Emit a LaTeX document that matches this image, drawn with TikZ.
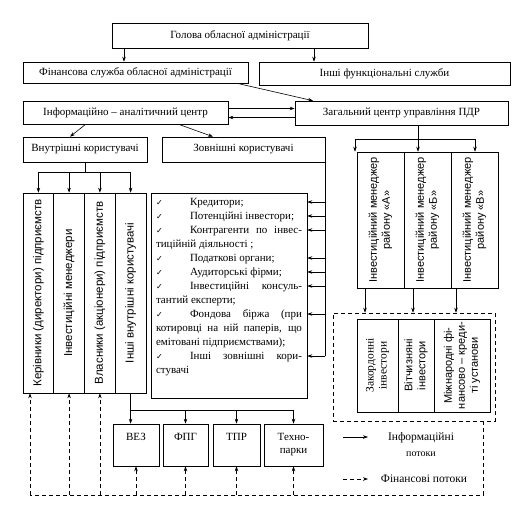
\documentclass[tikz,border=0pt]{standalone}
\usepackage{fontspec}
\setmainfont{Liberation Serif}
\setsansfont{Liberation Sans}
\newfontfamily\symfont{DejaVu Sans}
\usetikzlibrary{arrows.meta}

\newcommand{\chk}{\makebox[34pt][l]{\symfont\footnotesize ✓}}
\newcommand{\jl}[1]{\makebox[\linewidth][s]{#1}}

\tikzset{
  box/.style={draw, inner sep=2pt, align=center, font=\fontsize{11}{13}\selectfont},
  vbox/.style={box, rotate=90, font=\sffamily\fontsize{11}{13}\selectfont},
  arr/.style={-{Stealth[length=5pt,width=3.5pt]}},
  fin/.style={dash pattern=on 4pt off 3pt},
}

\begin{document}
\begin{tikzpicture}[x=1pt,y=-1pt,line width=0.6pt]
\useasboundingbox (0,0) rectangle (520,530);

% top levels
\node[box,minimum width=256pt,minimum height=25pt] (golova) at (240,35.5) {Голова обласної адміністрації};
\node[box,minimum width=225pt,minimum height=21pt] (finsl) at (135.5,72.5) {Фінансова служба обласної адміністрації};
\node[box,minimum width=251pt,minimum height=23pt] (inshi) at (384.5,73.5) {Інші функціональні служби};
\node[box,minimum width=205pt,minimum height=23pt] (iac) at (125.5,113) {Інформаційно -- аналітичний центр};
\node[box,minimum width=213pt,minimum height=24pt] (zag) at (401.5,113) {Загальний центр управління ПДР};
\node[box,minimum width=124pt,minimum height=25pt] (vnut) at (85,149.5) {Внутрішні користувачі};
\node[box,minimum width=163pt,minimum height=25pt] (zovn) at (243.5,149.5) {Зовнішні користувачі};

\draw[arr] ([xshift=-116pt]golova.south) -- ([xshift=-11.5pt]finsl.north);
\draw[arr] ([xshift=74pt]golova.south) -- ([xshift=-70.5pt]inshi.north);
\draw[arr] ([xshift=101.5pt]finsl.south) -- ([xshift=-88.5pt]zag.north);
\draw[arr] ([yshift=4.5pt]iac.east) -- ([yshift=4.5pt]zag.west);
\draw[arr] ([yshift=-4.5pt]zag.west) -- ([yshift=-4.5pt]iac.east);
\draw[arr] ([xshift=-40.5pt]iac.south) -- ([xshift=-15pt]vnut.north);
\draw[arr] ([xshift=54.5pt]iac.south) -- ([xshift=-30.5pt]zovn.north);

% internal users
\foreach \i/\cx/\txt in {1/38.4/{Керівники (директори) підприємств},2/69.1/{Інвестиційні менеджери},
    3/99.9/{Власники (акціонери) підприємств},4/130.6/{Інші внутрішні користувачі}}
  \node[vbox,font=\sffamily\fontsize{11.5}{13}\selectfont,minimum width=200pt,minimum height=30.75pt] (k\i) at (\cx,293) {\txt};

\coordinate (vbar) at (0,172);
\draw (vnut.south) -- (vnut.south |- vbar);
\draw (k1.east |- vbar) -- (k4.east |- vbar);
\foreach \i in {1,...,4}
  \draw[arr] (k\i.east |- vbar) -- (k\i.east);

% external users
\node[draw,inner sep=5pt,font=\fontsize{11}{14}\selectfont] (zovl) at (229,295.5) {\parbox[t][195pt][t]{146pt}{%
\chk Кредитори;\\
\chk Потенційні інвестори;\\
\jl{\chk Контрагенти по інвес-}\\
тиційній діяльності ;\\
\chk Податкові органи;\\
\chk Аудиторські фірми;\\
\jl{\chk Інвестиційні консуль-}\\
тантий експерти;\\
\jl{\chk Фондова біржа (при}\\
\jl{котировці на ній паперів, що}\\
емітовані підприємствами);\\
\jl{\chk Інші зовнішні кори-}\\
стувачі}};

\foreach \y [count=\i] in {202,216,230,258,272,286,314,356}
  \coordinate (e\i) at (0,\y);
\draw (zovn.south east) -- (zovn.south east |- e8);
\foreach \i in {1,...,8}
  \draw[arr] (zovn.south east |- e\i) -- (zovl.east |- e\i);

% district managers
\foreach \i/\cx/\t in {1/380.5/А,2/427.5/Б,3/474.5/В}
  \node[vbox,minimum width=136pt,minimum height=47pt] (m\i) at (\cx,220) {Інвестиційний менеджер\\району «\t»};

\coordinate (ma) at (355,139);
\coordinate (mb) at (418,139);
\coordinate (mc) at (475,139);
\draw (zag.south -| mb) -- (mb);
\draw (ma) -- (mc);
\foreach \c/\m in {ma/m1,mb/m2,mc/m3}
  \draw[arr] (\c) -- (\c |- \m.east);

% investors
\node[draw,fin,minimum width=162pt,minimum height=108pt] (dzone) at (414,367) {};
\node[vbox,font=\fontsize{11.5}{13}\selectfont,minimum width=93pt,minimum height=41pt] (i1) at (377.5,365.5) {Закордонні\\інвестори};
\node[vbox,minimum width=93pt,minimum height=36pt] (i2) at (416,365.5) {Вітчизняні\\інвестори};
\node[vbox,inner sep=1pt,minimum width=93pt,minimum height=56pt] (i3) at (462,365.5) {Міжнародні фі-\\нансово -- креди-\\ті установи};

\foreach \x/\m in {365/m1,413/m2,456/m3}{
  \coordinate (d\m) at (\x,0);
  \draw[arr] (d\m |- \m.west) -- (d\m |- dzone.north);
}

% bottom row
\node[box,minimum width=46pt,minimum height=42pt] (vez) at (136,445) {ВЕЗ\\\strut};
\node[box,minimum width=45pt,minimum height=42pt] (fpg) at (185.5,445) {ФПГ\\\strut};
\node[box,minimum width=47pt,minimum height=42pt] (tpr) at (236.5,445) {ТПР\\\strut};
\node[box,minimum width=59pt,minimum height=42pt] (tech) at (293.5,445) {Техно-\\парки};

\coordinate (bbar) at (0,410);
\draw (k4.west) -- (k4.west |- bbar) -- (tech.north |- bbar);
\draw[arr] (k4.west |- bbar) -- (k4.west |- vez.north);
\foreach \b in {fpg,tpr,tech}
  \draw[arr] (\b.north |- bbar) -- (\b.north);

% financial flows
\coordinate (fl) at (30,495);
\coordinate (fr) at (483,495);
\draw[fin] (dzone.south -| fr) -- (fr) -- (fl);
\draw[fin,arr] (fl) -- (fl |- k1.west);
\foreach \k in {k2,k3}
  \draw[fin,arr] (\k.west |- fl) -- (\k.west);
\foreach \b in {vez,fpg,tpr,tech}
  \draw[fin,arr] (\b.south |- fl) -- (\b.south);

% legend
\coordinate (l1s) at (343,437);
\coordinate (l1e) at (368,437);
\draw[arr] (l1s) -- (l1e);
\node[align=center,font=\fontsize{11.5}{16}\selectfont] (linfo) at (421,445) {Інформаційні\\{\fontsize{10}{12}\selectfont потоки}};
\coordinate (l2s) at (343,479);
\coordinate (l2e) at (368,479);
\draw[fin,arr] (l2s) -- (l2e);
\node[font=\fontsize{11.5}{13}\selectfont] (lfin) at (424,479) {Фінансові потоки};
\end{tikzpicture}
\end{document}
